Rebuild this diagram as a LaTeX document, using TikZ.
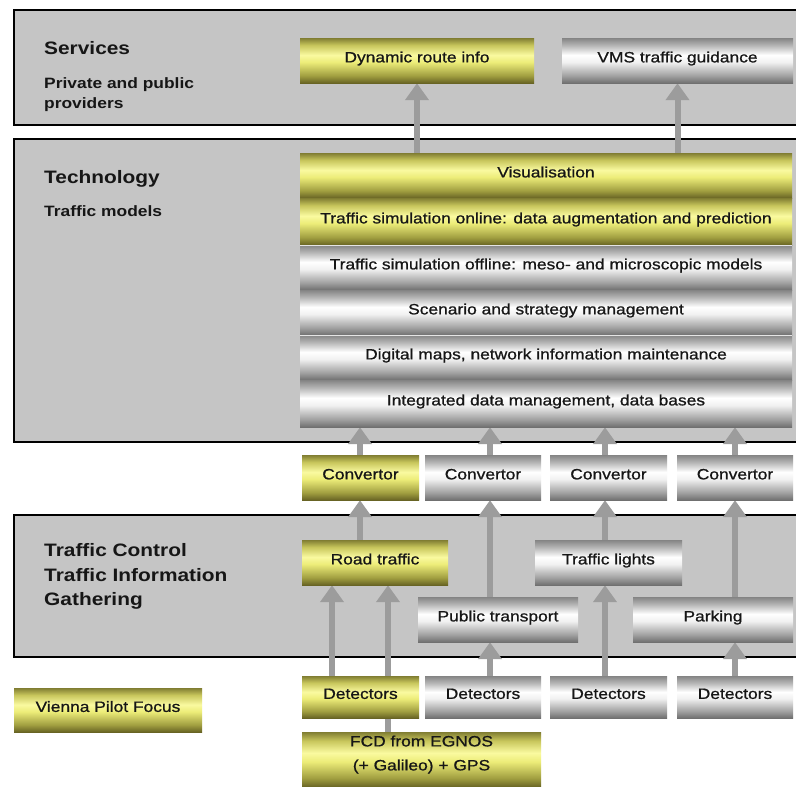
\documentclass[tikz,border=0pt]{standalone}
\usepackage{fontspec}
\setmainfont{Liberation Sans}[FakeStretch=1.16]
\newfontfamily\boxfont{Liberation Sans}[FakeStretch=1.16, FakeBold=0.9]
\usetikzlibrary{arrows.meta}
\definecolor{panelgray}{RGB}{197,197,197}
\definecolor{arrowgray}{RGB}{156,156,156}
\definecolor{txt}{RGB}{22,22,22}
\definecolor{svA}{RGB}{112,112,112}
\definecolor{svB}{RGB}{160,160,160}
\definecolor{svC}{RGB}{240,240,240}
\definecolor{svD}{RGB}{180,180,180}
\definecolor{svE}{RGB}{132,132,132}
\definecolor{gdA}{RGB}{104,100,36}
\definecolor{gdB}{RGB}{160,158,64}
\definecolor{gdC}{RGB}{236,236,120}
\definecolor{gdM}{RGB}{250,250,160}
\definecolor{gdD}{RGB}{200,198,92}
\definecolor{gdE}{RGB}{128,125,50}
\pgfdeclareverticalshading{silvertube}{100bp}{color(0bp)=(svA); color(25bp)=(svA); color(33bp)=(svB); color(48bp)=(svC); color(56bp)=(white); color(67bp)=(svD); color(75bp)=(svE); color(100bp)=(svE)}
\pgfdeclareverticalshading{goldtube}{100bp}{color(0bp)=(gdA); color(25bp)=(gdA); color(33bp)=(gdB); color(48bp)=(gdC); color(56bp)=(gdM); color(67bp)=(gdD); color(75bp)=(gdE); color(100bp)=(gdE)}
\pgfdeclarelayer{panels}
\pgfdeclarelayer{arrows}
\pgfsetlayers{panels,arrows,main}
\begin{document}
\begin{tikzpicture}[x=1pt,y=-1pt,
  box/.style={rectangle, inner sep=0pt, text height=3.8pt, text depth=0pt, text=txt, font=\boxfont\fontsize{15}{18}\selectfont},
  silver/.style={box, shade, shading=silvertube},
  gold/.style={box, shade, shading=goldtube},
  panel/.style={fill=panelgray, draw=black, line width=1.3pt},
  head/.style={anchor=base west, inner sep=0pt, text=txt, font=\fontsize{18}{22}\selectfont\bfseries},
  subhead/.style={anchor=base west, inner sep=0pt, text=txt, font=\fontsize{15}{18}\selectfont\bfseries},
  arr/.style={draw=arrowgray, line width=6pt, -{Triangle[width=23pt,length=17pt]}}]
\useasboundingbox (0,0) rectangle (796,787);
\begin{pgfonlayer}{panels}
  \fill[white] (0,0) rectangle (796,787);
  \draw[panel] (14,10) rectangle (812,125);
  \draw[panel] (14,139) rectangle (812,442);
  \draw[panel] (14,515) rectangle (812,657);
\end{pgfonlayer}
% headings
\node[head] (hserv) at (44,54) {Services};
\node[subhead] (hprov1) at (44,88) {Private and public};
\node[subhead] (hprov2) at (44,108.5) {providers};
\node[head] (htech) at (44,183) {Technology};
\node[subhead] (hmod) at (44,216) {Traffic models};
\node[head] (hctl1) at (44,556) {Traffic Control};
\node[head] (hctl2) at (44,581) {Traffic Information};
\node[head] (hctl3) at (44,605) {Gathering};
% services
\node[gold, minimum width=234pt, minimum height=45pt] (dyn) at (417,60.5) {Dynamic route info};
\node[silver, minimum width=231pt, minimum height=45pt] (vms) at (677.5,60.5) {VMS traffic guidance};
% technology stack
\node[gold, minimum width=492pt, minimum height=45pt] (vis) at (546,175.5) {Visualisation};
\node[gold, minimum width=492pt, minimum height=47pt] (onl) at (546,221.5) {Traffic simulation online: data augmentation and prediction};
\node[silver, minimum width=492pt, minimum height=45pt] (offl) at (546,267.5) {Traffic simulation offline: meso- and microscopic models};
\node[silver, minimum width=492pt, minimum height=45pt] (scen) at (546,312.5) {Scenario and strategy management};
\node[silver, minimum width=492pt, minimum height=45pt] (dmaps) at (546,357.5) {Digital maps, network information maintenance};
\node[silver, minimum width=492pt, minimum height=47pt] (integ) at (546,403.5) {Integrated data management, data bases};
\draw[white!80!gray, line width=1pt] (onl.south west) -- (onl.south east);
\draw[white!80!gray, line width=1pt] (scen.south west) -- (scen.south east);
% convertors
\node[gold, minimum width=117pt, minimum height=45pt] (conv1) at (360.5,477.5) {Convertor};
\node[silver, minimum width=116pt, minimum height=45pt] (conv2) at (483,477.5) {Convertor};
\node[silver, minimum width=117pt, minimum height=45pt] (conv3) at (608.5,477.5) {Convertor};
\node[silver, minimum width=116pt, minimum height=45pt] (conv4) at (735,477.5) {Convertor};
% traffic control
\node[gold, minimum width=146pt, minimum height=45pt] (road) at (375,562.5) {Road traffic};
\node[silver, minimum width=147pt, minimum height=45pt] (lights) at (608.5,562.5) {Traffic lights};
\node[silver, minimum width=160pt, minimum height=45pt] (publ) at (498,619.5) {Public transport};
\node[silver, minimum width=160pt, minimum height=45pt] (park) at (713,619.5) {Parking};
% detectors
\node[gold, minimum width=117pt, minimum height=42pt] (det1) at (360.5,697) {Detectors};
\node[silver, minimum width=116pt, minimum height=42pt] (det2) at (483,697) {Detectors};
\node[silver, minimum width=117pt, minimum height=42pt] (det3) at (608.5,697) {Detectors};
\node[silver, minimum width=116pt, minimum height=42pt] (det4) at (735,697) {Detectors};
\node[gold, minimum width=239pt, minimum height=55pt] (fcd) at (421.5,759.5)
  {\raisebox{-9pt}[0pt][0pt]{\renewcommand{\arraystretch}{1.333}\begin{tabular}[b]{@{}c@{}}FCD from EGNOS\\(+ Galileo) + GPS\end{tabular}}};
\node[gold, minimum width=188pt, minimum height=44pt] (vienna) at (108,710) {Vienna Pilot Focus};
% column coordinates
\coordinate (colA) at (360,0);
\coordinate (colB) at (490,0);
\coordinate (colC) at (605,0);
\coordinate (colD) at (735,0);
\coordinate (rA) at (332,0);
\coordinate (rB) at (388,0);
\begin{pgfonlayer}{arrows}
  \draw[arr] (vis.north -| dyn.south) -- (dyn.south);
  \draw[arr] (vis.north -| vms.south) -- (vms.south);
  \draw[arr] (conv1.north -| colA) -- (integ.south -| colA);
  \draw[arr] (conv2.north -| colB) -- (integ.south -| colB);
  \draw[arr] (conv3.north -| colC) -- (integ.south -| colC);
  \draw[arr] (conv4.north -| colD) -- (integ.south -| colD);
  \draw[arr] (road.north -| colA) -- (conv1.south -| colA);
  \draw[arr] (publ.north -| colB) -- (conv2.south -| colB);
  \draw[arr] (lights.north -| colC) -- (conv3.south -| colC);
  \draw[arr] (park.north -| colD) -- (conv4.south -| colD);
  \draw[arr] (det1.north -| rA) -- (road.south -| rA);
  \draw[arr] (fcd.north -| rB) -- (road.south -| rB);
  \draw[arr] (det2.north -| colB) -- (publ.south -| colB);
  \draw[arr] (det3.north -| colC) -- (lights.south -| colC);
  \draw[arr] (det4.north -| colD) -- (park.south -| colD);
\end{pgfonlayer}
\end{tikzpicture}
\end{document}
